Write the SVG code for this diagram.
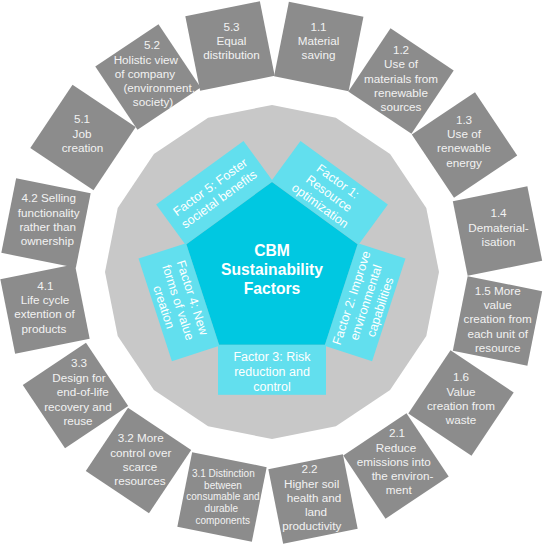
<svg xmlns="http://www.w3.org/2000/svg" width="544" height="548" viewBox="0 0 544 548">
<style>
.box{fill:#8C8C8C}
.bt{font-family:"Liberation Sans",Arial,sans-serif;font-size:11.7px;fill:#F2F2F2;text-anchor:middle}
.bs{font-family:"Liberation Sans",Arial,sans-serif;font-size:10px;fill:#F2F2F2;text-anchor:middle}
.fr{fill:#62DFEE}
.ft{font-family:"Liberation Sans",Arial,sans-serif;font-size:12.5px;fill:#FFFFFF;text-anchor:middle}
.ct{font-family:"Liberation Sans",Arial,sans-serif;font-size:15.7px;font-weight:bold;fill:#FFFFFF;text-anchor:middle}
</style>
<rect width="544" height="548" fill="#FFFFFF"/>
<polygon id="ring" fill="#C8C8C8" points="272,105 335.91,117.71 390.09,153.91 426.29,208.09 439,272 426.29,335.91 390.09,390.09 335.91,426.29 272,439 208.09,426.29 153.91,390.09 117.71,335.91 105,272 117.71,208.09 153.91,153.91 208.09,117.71"/>

<g id="b53"><rect class="box" x="-38" y="-38" width="76" height="76" transform="translate(230,46) rotate(-11.25)"/>
<text class="bt"><tspan x="231.5" y="30.7">5.3</tspan><tspan x="231.5" y="45">Equal</tspan><tspan x="231.5" y="59.2">distribution</tspan></text></g>
<g id="b11"><rect class="box" x="-38" y="-38" width="76" height="76" transform="translate(318.75,46.5) rotate(11.25)"/>
<text class="bt"><tspan x="318.5" y="30.7">1.1</tspan><tspan x="318.5" y="45.2">Material</tspan><tspan x="318.5" y="59.4">saving</tspan></text></g>
<g id="b12"><rect class="box" x="-38" y="-38" width="76" height="76" transform="translate(401,81) rotate(33.75)"/>
<text class="bt"><tspan x="401" y="54">1.2</tspan><tspan x="401" y="68.3">Use of</tspan><tspan x="401" y="82.5">materials from</tspan><tspan x="401" y="96.7">renewable</tspan><tspan x="401" y="110.9">sources</tspan></text></g>
<g id="b13"><rect class="box" x="-38" y="-38" width="76" height="76" transform="translate(464.5,145) rotate(56.25)"/>
<text class="bt"><tspan x="464" y="124">1.3</tspan><tspan x="464" y="138.2">Use of</tspan><tspan x="464" y="152.4">renewable</tspan><tspan x="464" y="166.6">energy</tspan></text></g>
<g id="b14"><rect class="box" x="-38" y="-38" width="76" height="76" transform="translate(497.5,231) rotate(78.75)"/>
<text class="bt"><tspan x="498.5" y="217.3">1.4</tspan><tspan x="498.5" y="231.5">Dematerial-</tspan><tspan x="498.5" y="245.7">isation</tspan></text></g>
<g id="b15"><rect class="box" x="-38" y="-38" width="76" height="76" transform="translate(497.5,321) rotate(101.25)"/>
<text class="bt"><tspan x="497.7" y="295">1.5 More</tspan><tspan x="497.7" y="309.2">value</tspan><tspan x="497.7" y="323.4">creation from</tspan><tspan x="497.7" y="337.6">each unit of</tspan><tspan x="497.7" y="351.8">resource</tspan></text></g>
<g id="b16"><rect class="box" x="-38" y="-38" width="76" height="76" transform="translate(461,403) rotate(123.75)"/>
<text class="bt"><tspan x="461" y="381.3">1.6</tspan><tspan x="461" y="395.5">Value</tspan><tspan x="461" y="409.7">creation from</tspan><tspan x="461" y="423.9">waste</tspan></text></g>
<g id="b21"><rect class="box" x="-38" y="-38" width="76" height="76" transform="translate(396,466) rotate(146.25)"/>
<text class="bt"><tspan x="397" y="437.3">2.1</tspan><tspan x="396" y="451.5">Reduce</tspan><tspan x="393.7" y="465.7">emissions into</tspan><tspan x="402.5" y="479.9">the environ-</tspan><tspan x="398.7" y="494.1">ment</tspan></text></g>
<g id="b22"><rect class="box" x="-38" y="-38" width="76" height="76" transform="translate(313,499) rotate(168.75)"/>
<text class="bt"><tspan x="309.5" y="473.3">2.2</tspan><tspan x="311.7" y="487.5">Higher soil</tspan><tspan x="314" y="501.7">health and</tspan><tspan x="316" y="515.9">land</tspan><tspan x="311.7" y="530.1">productivity</tspan></text></g>
<g id="b31"><rect class="box" x="-38" y="-38" width="76" height="76" transform="translate(222,497) rotate(191.25)"/>
<text class="bs"><tspan x="223.3" y="476.8">3.1 Distinction</tspan><tspan x="223" y="488.5">between</tspan><tspan x="223" y="500.2">consumable and</tspan><tspan x="221.3" y="511.9">durable</tspan><tspan x="222.7" y="523.6">components</tspan></text></g>
<g id="b32"><rect class="box" x="-38" y="-38" width="76" height="76" transform="translate(138.5,460.5) rotate(213.75)"/>
<text class="bt"><tspan x="140.7" y="442.3">3.2 More</tspan><tspan x="140.8" y="456.5">control over</tspan><tspan x="140" y="470.7">scarce</tspan><tspan x="140" y="484.9">resources</tspan></text></g>
<g id="b33"><rect class="box" x="-38" y="-38" width="76" height="76" transform="translate(75.5,395.5) rotate(236.25)"/>
<text class="bt"><tspan x="79" y="367.3">3.3</tspan><tspan x="79" y="382">Design for</tspan><tspan x="82.8" y="396.3">end-of-life</tspan><tspan x="78" y="410.6">recovery and</tspan><tspan x="78" y="424.8">reuse</tspan></text></g>
<g id="b41"><rect class="box" x="-38" y="-38" width="76" height="76" transform="translate(45,309) rotate(258.75)"/>
<text class="bt"><tspan x="45.3" y="290">4.1</tspan><tspan x="45" y="304.2">Life cycle</tspan><tspan x="44.5" y="318.4">extention of</tspan><tspan x="44" y="332.6">products</tspan></text></g>
<g id="b42"><rect class="box" x="-38" y="-38" width="76" height="76" transform="translate(46,223) rotate(281.25)"/>
<text class="bt"><tspan x="48.8" y="202.3">4.2 Selling</tspan><tspan x="48.7" y="216.5">functionality</tspan><tspan x="47.7" y="230.7">rather than</tspan><tspan x="47.3" y="244.9">ownership</tspan></text></g>
<g id="b51"><rect class="box" x="-38" y="-38" width="76" height="76" transform="translate(83,137.5) rotate(303.75)"/>
<text class="bt"><tspan x="82" y="123.3">5.1</tspan><tspan x="82" y="137.5">Job</tspan><tspan x="82.5" y="151.7">creation</tspan></text></g>
<g id="b52"><rect class="box" x="-38" y="-38" width="76" height="76" transform="translate(148,77) rotate(326.25)"/>
<text class="bt"><tspan x="152" y="49">5.2</tspan><tspan x="145.8" y="63.6">Holistic view</tspan><tspan x="145" y="77.8">of company</tspan><tspan x="159.2" y="92">(environment,</tspan><tspan x="153" y="106.2">society)</tspan></text></g>

<g id="f3"><rect class="fr" x="218" y="344.8" width="108" height="50"/>
<text class="ft" transform="translate(272,369.8)"><tspan x="0" y="-9">Factor 3: Risk</tspan><tspan x="0" y="6">reduction and</tspan><tspan x="0" y="21">control</tspan></text></g>
<g id="f2"><rect class="fr" x="218" y="344.8" width="108" height="50" transform="rotate(-72 272 272)"/>
<text class="ft" transform="translate(365,302.2) rotate(-72)"><tspan x="0" y="-10">Factor 2: Improve</tspan><tspan x="0" y="5">environmental</tspan><tspan x="0" y="20">capabilities</tspan></text></g>
<g id="f1"><rect class="fr" x="218" y="344.8" width="108" height="50" transform="rotate(-144 272 272)"/>
<text class="ft" transform="translate(329.5,192.9) rotate(36)"><tspan x="0" y="-10">Factor 1:</tspan><tspan x="0" y="5">Resource</tspan><tspan x="0" y="20">optimization</tspan></text></g>
<g id="f5"><rect class="fr" x="218" y="344.8" width="108" height="50" transform="rotate(144 272 272)"/>
<text class="ft" transform="translate(214.5,192.9) rotate(-36)"><tspan x="0" y="-3">Factor 5: Foster</tspan><tspan x="0" y="12">societal benefits</tspan></text></g>
<g id="f4"><rect class="fr" x="218" y="344.8" width="108" height="50" transform="rotate(72 272 272)"/>
<text class="ft" transform="translate(179,302.2) rotate(72)"><tspan x="0" y="-10">Factor 4: New</tspan><tspan x="0" y="5">forms of value</tspan><tspan x="0" y="20">creation</tspan></text></g>

<g id="center"><polygon fill="#00C8E1" points="272,182 357.6,244.2 324.9,344.8 219.1,344.8 186.4,244.2"/>
<text class="ct"><tspan x="272" y="255.5">CBM</tspan><tspan x="272" y="275">Sustainability</tspan><tspan x="272" y="294">Factors</tspan></text></g>
</svg>
